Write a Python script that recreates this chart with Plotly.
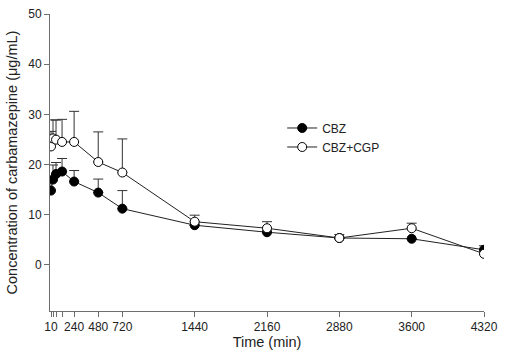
import plotly.graph_objects as go

time_min = [10, 30, 60, 120, 240, 480, 720, 1440, 2160, 2880, 3600, 4320]
cbz = [14.8, 17.0, 18.1, 18.6, 16.6, 14.4, 11.2, 7.9, 6.5, 5.35, 5.2, 3.0]
cbz_err = [2.4, 2.9, 2.3, 2.6, 2.2, 2.7, 3.6, 0.0, 0.0, 0.0, 0.0, 0.8]
cbz_cgp = [23.6, 25.2, 24.95, 24.5, 24.5, 20.5, 18.4, 8.6, 7.3, 5.35, 7.3, 2.2]
cbz_cgp_err = [3.0, 3.7, 3.9, 4.5, 6.1, 6.0, 6.7, 1.3, 1.3, 0.7, 1.0, 0.0]

x_tickvals = [10, 30, 60, 120, 240, 480, 720, 1440, 2160, 2880, 3600, 4320]
x_ticktext = ["10", "", "", "", "240", "480", "720", "1440", "2160", "2880", "3600", "4320"]
y_tickvals = [0, 10, 20, 30, 40, 50]

FONT = "Arial, Liberation Sans, sans-serif"
AX = "#6e6e6e"

fig = go.Figure()
fig.add_trace(go.Scatter(
    x=time_min, y=cbz, name="CBZ", mode="lines+markers",
    line=dict(color="#222", width=1),
    marker=dict(symbol="circle", size=9, color="black", line=dict(color="black", width=1)),
    error_y=dict(type="data", array=cbz_err, symmetric=False,
                 arrayminus=[0]*len(cbz_err), color="#333", thickness=1, width=5),
))
fig.add_trace(go.Scatter(
    x=time_min, y=cbz_cgp, name="CBZ+CGP", mode="lines+markers",
    line=dict(color="#222", width=1),
    marker=dict(symbol="circle", size=9, color="white", line=dict(color="black", width=1)),
    error_y=dict(type="data", array=cbz_cgp_err, symmetric=False,
                 arrayminus=[0]*len(cbz_cgp_err), color="#333", thickness=1, width=5),
))

fig.update_layout(
    width=509, height=357,
    margin=dict(l=50, r=25, t=7, b=46),
    paper_bgcolor="white", plot_bgcolor="white",
    font=dict(family=FONT, size=12, color="#222"),
    showlegend=True,
    legend=dict(x=0.535, y=0.665, xanchor="left", yanchor="top",
                bgcolor="rgba(0,0,0,0)", font=dict(size=12, family=FONT),
                itemwidth=30, tracegroupgap=0),
    xaxis=dict(range=[0, 4320], tickvals=x_tickvals, ticktext=x_ticktext,
               showgrid=False, zeroline=False, showline=True, linecolor=AX, linewidth=1,
               ticks="outside", ticklen=5, tickcolor=AX,
               title=dict(text="Time (min)", font=dict(size=14.5), standoff=1),
               tickfont=dict(size=12)),
    yaxis=dict(range=[-9.2, 50], tickvals=y_tickvals,
               showgrid=False, zeroline=False, showline=True, linecolor=AX, linewidth=1,
               ticks="outside", ticklen=5, tickcolor=AX,
               title=dict(text="Concentration of carbamazepine (\u03bcg/mL)", font=dict(size=14.5), standoff=7),
               tickfont=dict(size=12)),
)

fig.write_html("out.html")
